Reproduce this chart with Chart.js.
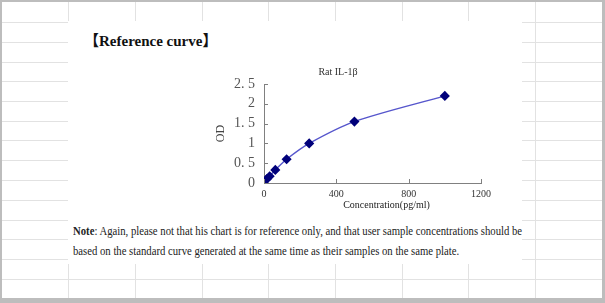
<!DOCTYPE html>
<html>
<head>
<meta charset="utf-8">
<script src="https://cdn.jsdelivr.net/npm/chart.js@4.4.0/dist/chart.umd.min.js"></script>
<style>
  html, body { margin: 0; padding: 0; background: #fff; }
  #frame {
    position: absolute; left: 0; top: 0; width: 600px; height: 296px;
    border-style: solid; border-color: #bdbdbd;
    border-width: 2px 3px 5px 2px;
    background-color: #fff;
    overflow: hidden;
  }
  .gl { position: absolute; background: #e2e2e2; }
  #sheet {
    position: absolute; left: 68px; top: 21px; width: 454px; height: 243px;
    background: #fff;
  }
  #heading {
    position: absolute; left: 16px; top: 8px;
    font: bold 15px "Liberation Serif", "Noto Sans CJK SC", serif;
    color: #111; white-space: nowrap;
  }
  #chartBox { position: absolute; left: 122px; top: 39px; width: 306px; height: 155px; }
  .note {
    position: absolute; left: 5px;
    font: 12px "Liberation Serif", serif; color: #222;
    white-space: nowrap; transform-origin: 0 0;
  }
</style>
</head>
<body>
<div id="frame"></div>
<div id="sheet">
  <div id="heading">【Reference curve】</div>
  <div id="chartBox"><canvas id="curve"></canvas></div>
  <div class="note" id="note1" style="top:203px"><b>Note</b>: Again, please not that his chart is for reference only, and that user sample concentrations should be</div>
  <div class="note" id="note2" style="top:223px">based on the standard curve generated at the same time as their samples on the same plate.</div>
</div>
<script>
// standard curve values
const concentration = [0, 15.6, 31.25, 62.5, 125, 250, 500, 1000];
const odValues = [0.03, 0.1, 0.17, 0.33, 0.6, 1.0, 1.55, 2.2];
const xTicks = [0, 400, 800, 1200];
const yTicks = [0, 0.5, 1, 1.5, 2, 2.5];
const xTitle = 'Concentration(pg/ml)';

// spreadsheet grid behind the pasted picture
const frame = document.getElementById('frame');
const colX = [66, 133, 200, 266, 333, 400, 466, 533];
const rowY = [20, 40, 60, 79, 99, 119, 138, 158, 178, 198, 218, 237, 257, 277];
colX.forEach(x => {
    const d = document.createElement('div');
    d.className = 'gl';
    d.style.cssText = `left:${x}px;top:0;width:1px;height:100%`;
    frame.appendChild(d);
});
rowY.forEach(y => {
    const d = document.createElement('div');
    d.className = 'gl';
    d.style.cssText = `left:0;top:${y}px;width:100%;height:1px`;
    frame.appendChild(d);
});

// squeeze note lines to the width seen in the picture
const note1 = document.getElementById('note1');
const noteScale = 449 / note1.offsetWidth;
['note1', 'note2'].forEach(id => {
    document.getElementById(id).style.transform = `scaleX(${noteScale})`;
});

// inward tick marks + x title sitting a bit right of centre, like Excel
const axisExtras = {
    id: 'axisExtras',
    afterDraw(chart) {
        const ctx = chart.ctx;
        const area = chart.chartArea;
        const xs = chart.scales.x, ys = chart.scales.y;
        ctx.save();
        ctx.strokeStyle = '#808080';
        ctx.lineWidth = 1;
        ctx.beginPath();
        yTicks.forEach(v => {
            const py = Math.round(ys.getPixelForValue(v)) + 0.5;
            ctx.moveTo(area.left, py);
            ctx.lineTo(area.left + 4, py);
        });
        xTicks.forEach(v => {
            const px = Math.round(xs.getPixelForValue(v)) + 0.5;
            ctx.moveTo(px, area.bottom);
            ctx.lineTo(px, area.bottom - 4);
        });
        ctx.stroke();

        ctx.fillStyle = '#222';
        ctx.font = '10px "Liberation Serif"';
        ctx.textAlign = 'center';
        ctx.textBaseline = 'middle';
        ctx.fillText(xTitle, (area.left + area.right) / 2 + 14, area.bottom + 22);
        ctx.restore();
    }
};

new Chart(document.getElementById('curve'), {
    type: 'scatter',
    data: {
        datasets: [{
            label: 'Rat IL-1β',
            data: concentration.map((c, i) => ({ x: c, y: odValues[i] })),
            showLine: true,
            tension: 0.3,
            borderColor: '#5656cc',
            borderWidth: 1.5,
            pointStyle: 'rectRot',
            pointRadius: 4,
            pointBackgroundColor: '#00007a',
            pointBorderColor: '#00007a'
        }]
    },
    plugins: [axisExtras],
    options: {
        responsive: true,
        maintainAspectRatio: false,
        animation: false,
        layout: { padding: { left: 0, right: 10, top: 0, bottom: 0 } },
        plugins: {
            legend: { display: false },
            tooltip: { enabled: false },
            title: {
                display: true,
                text: 'Rat IL-1β',
                color: '#333',
                font: { family: 'Liberation Serif', size: 10, weight: 'normal' },
                padding: { top: 6, bottom: 6 }
            }
        },
        scales: {
            x: {
                type: 'linear',
                min: 0, max: 1200,
                afterBuildTicks: s => { s.ticks = xTicks.map(v => ({ value: v })); },
                afterFit: s => { s.height = 32; },
                grid: { drawOnChartArea: false, drawTicks: false },
                border: { display: true, color: '#808080' },
                ticks: {
                    color: '#333',
                    padding: 5,
                    font: { family: 'Liberation Serif', size: 10 },
                    callback: v => String(v)
                }
            },
            y: {
                type: 'linear',
                min: 0, max: 2.5,
                afterBuildTicks: s => { s.ticks = yTicks.map(v => ({ value: v })); },
                afterFit: s => { s.width = 74; },
                grid: { drawOnChartArea: false, drawTicks: false },
                border: { display: true, color: '#808080' },
                ticks: {
                    color: '#555',
                    padding: 9,
                    font: { family: 'Liberation Serif', size: 14 },
                    callback: v => String(v).replace('.', '. ')
                },
                title: {
                    display: true,
                    text: 'OD',
                    color: '#444',
                    font: { family: 'Liberation Serif', size: 12 },
                    padding: { top: 24, bottom: 0 }
                }
            }
        }
    }
});
</script>
</body>
</html>
